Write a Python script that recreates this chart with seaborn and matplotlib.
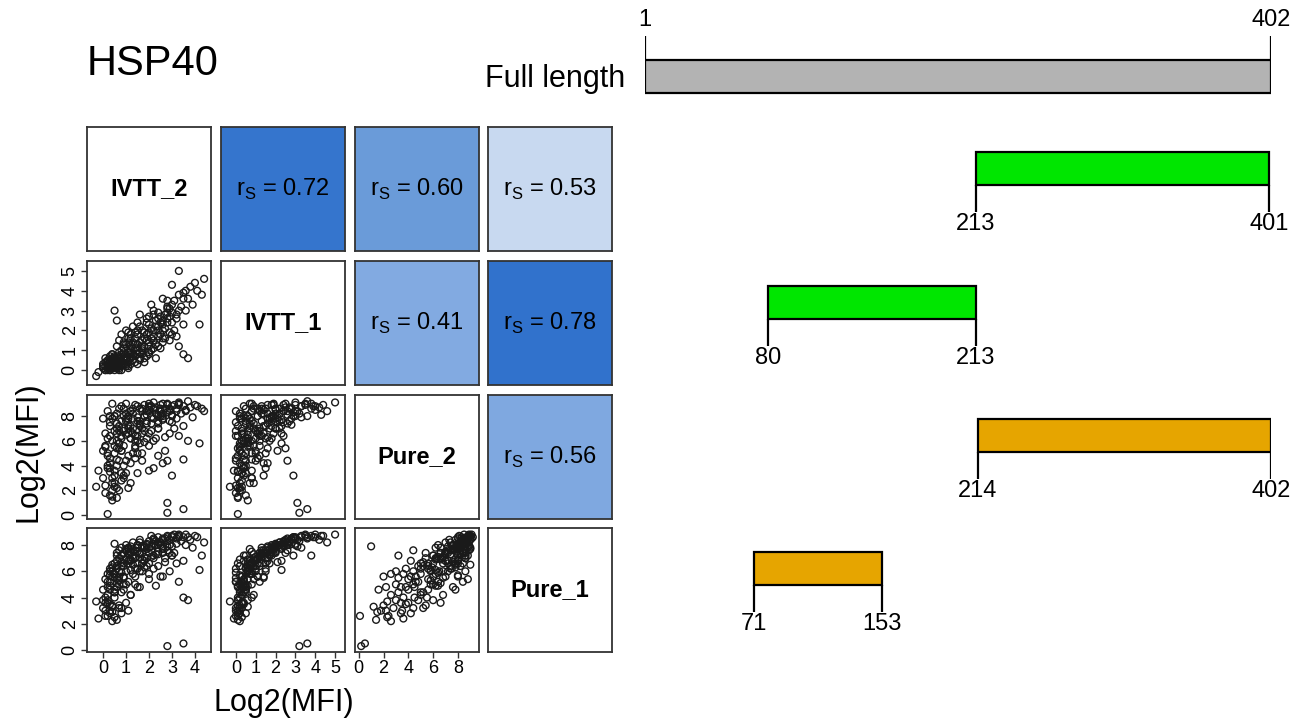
import numpy as np
import pandas as pd
import matplotlib.pyplot as plt
import seaborn as sns

# Log2(MFI) per antigen spot, four assay conditions (read approximately off the scatter clouds)
ivtt2 = [0.1, 0.3, 0.2, 0.5, 0.4, 0.0, 0.6, 0.3, 0.7, 0.2,
         0.5, 0.8, 0.4, 0.6, 0.9, 0.1, 0.7, 0.3, 1.0, 0.5,
         0.8, 1.0, 0.6, 1.2, 0.9, 1.1, 0.4, 1.3, 0.7, 1.4,
         1.5, 1.2, 1.6, 0.8, 1.7, 1.0, 1.8, 1.3, 0.6, 0.5,
         1.9, 2.0, 1.5, 2.1, 1.7, 2.2, 1.4, 2.3, 1.6, 2.0,
         2.4, 2.5, 1.8, 2.6, 2.2, 2.7, 1.9, 2.8, 2.4, 2.1,
         2.9, 3.0, 3.1, 2.6, 3.2, 3.3, 2.9, 3.4, 3.5, 3.6,
         3.7, 3.8, 4.0, 4.4, 4.3, 3.3, 3.9, 4.1, 3.0, 3.5,
         2.8, 3.5, 2.8, 0.2, -0.3, -0.2, 3.5, 3.7, 3.3, 4.2,
         0.1, 0.2, 0.0, 0.4, 0.6, 0.3, 0.5, 0.8, 0.9, 0.1,
         1.1, 1.3, 1.5, 1.2, 1.6, 1.8, 2.1, 1.4, 1.9, 2.3,
         1.0, 1.2, 1.4, 1.7, 2.0, 2.5, 2.7, 2.2, 2.6, 3.1,
         0.8, 1.0, 0.6, 0.3, 0.9, 1.1, 1.5, 1.7, 1.9, 2.4,
         2.0, 1.6, 2.5, 2.9, 1.2, 0.7, 3.2, 2.3, 2.8, 3.0,
         0.4, 0.1, 0.5, 0.2, 0.6, 0.8, 0.3, 0.0, 0.7, 0.4,
         1.3, 1.8, 2.2, 2.6, 1.5, 2.0, 2.4, 2.8, 3.2, 1.1,
         0.4, 0.6, 0.9, 1.1, 0.5, 0.7, 1.2, 1.4, 0.3, 0.8,
         1.6, 1.8, 2.1, 2.3, 2.6, 1.7, 2.0, 2.4, 1.5, 1.9,
         0.2, 0.5, 0.7, 0.9, 1.0, 0.6, 0.3, 1.2, 0.4, 0.8,
         2.7, 3.0, 2.5, 2.9, 3.3, 1.6, 1.2, 0.9, 2.2, 2.8,
         0.6, 1.0, 0.5, 1.3, 0.3, 0.2, 1.1, 0.7, 1.4, 0.9,
         1.3, 1.7, 2.2, 2.6, 3.0, 1.1, 1.5, 2.0, 2.4, 3.6]
ivtt1 = [0.0, 0.1, 0.3, 0.0, 0.2, 0.1, 0.4, 0.0, 0.2, 0.5,
         0.6, 0.3, 0.1, 0.7, 0.5, 0.2, 0.9, 0.4, 0.6, 0.3,
         1.0, 0.2, 1.2, 0.8, 1.4, 0.4, 0.8, 1.1, 1.5, 0.7,
         1.3, 1.6, 0.9, 1.8, 1.5, 2.0, 1.2, 2.2, 2.5, 3.0,
         1.8, 1.4, 2.4, 2.1, 1.0, 1.7, 1.9, 2.5, 2.8, 0.8,
         2.0, 2.7, 0.6, 2.3, 3.0, 1.6, 2.6, 2.9, 1.2, 3.3,
         3.1, 2.4, 3.5, 3.6, 2.8, 3.8, 1.9, 3.2, 3.9, 4.0,
         3.6, 4.2, 4.4, 4.6, 3.8, 5.0, 3.3, 4.0, 4.3, 2.3,
         3.2, 3.6, 3.1, 0.1, -0.3, -0.1, 0.8, 0.6, 1.2, 2.3,
         0.4, 0.0, 0.3, 0.6, 0.1, 0.2, 0.5, 0.0, 0.8, 0.6,
         0.1, 0.5, 0.3, 0.9, 0.6, 0.4, 1.0, 1.1, 0.7, 1.3,
         1.3, 1.0, 1.6, 2.0, 2.3, 1.8, 2.1, 1.5, 1.4, 2.0,
         0.4, 0.7, 0.2, 0.7, 1.1, 1.6, 0.8, 1.2, 2.4, 2.6,
         0.9, 0.5, 1.1, 1.5, 0.3, 0.1, 1.7, 0.6, 2.6, 2.9,
         0.2, 0.0, 0.4, 0.3, 0.1, 0.5, 0.0, 0.2, 0.3, 0.8,
         1.4, 1.6, 2.0, 2.5, 1.8, 2.7, 2.2, 2.4, 2.6, 1.9,
         0.3, 0.5, 0.6, 0.9, 0.2, 0.6, 1.2, 1.3, 0.1, 0.8,
         1.4, 1.9, 1.6, 2.2, 2.0, 1.1, 1.2, 1.7, 1.0, 1.5,
         0.1, 0.1, 0.4, 0.3, 0.5, 0.3, 0.2, 0.6, 0.5, 0.2,
         2.8, 3.3, 2.4, 2.7, 3.0, 2.2, 1.8, 1.3, 2.8, 3.5,
         0.4, 0.3, 0.7, 0.8, 0.5, 0.4, 0.2, 0.0, 0.4, 0.9,
         0.7, 0.8, 1.1, 1.6, 1.8, 1.4, 2.0, 1.9, 2.9, 3.0]
pure2 = [2.4, 3.5, 5.0, 6.8, 2.0, 3.0, 4.5, 7.5, 5.8, 6.2,
         8.0, 2.8, 1.5, 7.0, 4.0, 5.5, 8.6, 3.8, 6.5, 2.3,
         5.2, 7.8, 6.0, 8.4, 3.2, 4.8, 9.0, 6.6, 7.2, 5.6,
         8.8, 4.2, 7.4, 6.2, 5.0, 8.2, 6.8, 7.0, 5.4, 8.0,
         7.6, 8.5, 6.4, 7.9, 4.4, 6.0, 8.9, 8.7, 7.3, 3.6,
         7.0, 8.6, 5.9, 7.7, 9.1, 6.3, 8.1, 8.3, 4.8, 8.8,
         8.4, 7.5, 8.9, 8.0, 8.6, 9.0, 6.6, 8.2, 8.8, 8.5,
         9.2, 8.7, 8.9, 8.4, 8.6, 9.1, 7.9, 8.8, 8.1, 7.2,
         0.2, 0.5, 1.0, 0.1, 2.3, 3.6, 4.5, 6.0, 6.4, 5.8,
         6.6, 8.4, 7.8, 1.2, 1.4, 4.2, 5.0, 6.4, 3.0, 5.6,
         7.2, 8.6, 3.4, 2.6, 5.8, 8.0, 6.8, 4.6, 7.4, 8.2,
         7.6, 6.2, 5.4, 8.6, 6.6, 8.9, 5.2, 3.8, 4.2, 7.0,
         8.8, 9.0, 8.2, 7.2, 6.8, 7.8, 6.0, 7.0, 8.4, 7.4,
         8.8, 7.6, 8.0, 8.6, 6.8, 5.4, 7.8, 6.2, 4.4, 3.2,
         2.6, 1.8, 3.2, 4.0, 2.2, 3.4, 4.6, 5.2, 2.0, 3.0,
         8.2, 8.9, 8.5, 9.0, 7.9, 8.7, 7.6, 8.9, 8.4, 8.0,
         6.0, 7.4, 8.0, 7.0, 5.6, 6.8, 8.4, 6.4, 6.4, 7.6,
         7.2, 8.0, 7.4, 8.2, 7.8, 6.6, 5.6, 7.0, 5.0, 6.2,
         4.8, 3.6, 5.8, 7.0, 4.4, 6.6, 8.0, 6.2, 7.8, 5.2,
         8.6, 8.8, 8.4, 7.6, 8.9, 8.6, 7.2, 8.6, 7.8, 9.0,
         4.0, 3.4, 2.6, 5.0, 1.6, 3.8, 2.2, 4.4, 6.0, 5.6,
         7.8, 8.4, 8.6, 8.2, 8.0, 6.6, 7.6, 9.0, 8.0, 8.4]
pure1 = [2.6, 3.0, 4.2, 5.5, 3.4, 3.8, 4.8, 6.2, 5.0, 5.8,
         6.6, 3.2, 2.9, 6.8, 4.6, 4.0, 7.0, 3.5, 6.0, 2.5,
         6.4, 6.9, 7.2, 7.5, 5.5, 5.2, 6.5, 7.0, 7.6, 6.2,
         7.8, 6.8, 7.3, 7.8, 6.6, 8.0, 7.1, 8.2, 7.4, 8.1,
         7.7, 7.4, 8.0, 7.9, 6.0, 7.2, 7.6, 8.3, 8.4, 5.8,
         7.5, 8.2, 6.3, 7.7, 8.5, 7.0, 8.0, 8.6, 6.4, 8.7,
         8.4, 7.9, 8.8, 8.5, 8.1, 8.7, 7.4, 8.3, 8.6, 8.8,
         8.6, 8.4, 8.7, 8.2, 7.2, 8.8, 7.8, 8.6, 8.7, 6.8,
         0.3, 0.5, 7.9, 2.6, 3.7, 2.4, 4.0, 3.8, 5.2, 6.1,
         3.6, 5.2, 4.6, 3.3, 2.3, 2.8, 4.4, 5.9, 5.0, 5.4,
         6.6, 7.2, 4.8, 4.2, 6.0, 6.8, 7.1, 5.6, 6.4, 7.3,
         7.6, 6.9, 7.0, 7.9, 7.8, 8.0, 6.7, 6.2, 5.6, 7.4,
         7.2, 7.7, 6.4, 6.0, 6.6, 7.8, 6.6, 7.4, 8.1, 8.2,
         5.4, 4.8, 5.6, 6.0, 4.2, 3.4, 6.6, 4.9, 7.6, 7.2,
         2.2, 3.0, 4.4, 3.6, 4.8, 2.8, 5.2, 3.2, 5.6, 6.0,
         7.6, 7.9, 8.1, 8.4, 7.5, 8.3, 8.0, 8.3, 8.5, 7.7,
         5.6, 6.2, 6.9, 6.8, 4.6, 6.0, 7.4, 7.1, 4.9, 6.7,
         7.4, 7.8, 7.6, 8.0, 7.8, 6.9, 6.6, 7.3, 6.2, 7.0,
         3.8, 4.0, 5.3, 5.6, 5.0, 5.1, 5.7, 6.1, 6.3, 4.4,
         8.5, 8.6, 8.2, 8.0, 8.6, 8.2, 7.9, 7.4, 8.4, 8.7,
         5.4, 3.6, 5.8, 5.8, 4.6, 4.8, 3.0, 3.2, 5.0, 6.4,
         6.5, 6.6, 7.0, 7.4, 7.2, 7.4, 8.0, 7.8, 8.6, 8.0]

conditions = ["IVTT_2", "IVTT_1", "Pure_2", "Pure_1"]

# Spearman correlations shown in the upper triangle (row, col) and box colours
rs_cells = [(0, 1), (0, 2), (0, 3), (1, 2), (1, 3), (2, 3)]
rs_values = ["0.72", "0.60", "0.53", "0.41", "0.78", "0.56"]
rs_colors = ["#3575cd", "#6a9bd9", "#c8d9f0", "#82aae1", "#3172cc", "#7fa8e0"]

# protein fragments (residue ranges)
frag_names = ["Full length", "", "", "", ""]
frag_start = [1, 213, 80, 214, 71]
frag_end = [402, 401, 213, 402, 153]
frag_colors = ["#b3b3b3", "#00e600", "#00e600", "#e6a500", "#e6a500"]

df = pd.DataFrame({"IVTT_2": ivtt2, "IVTT_1": ivtt1, "Pure_2": pure2, "Pure_1": pure1})

sns.set_style("ticks")
plt.rcParams["font.family"] = ["Liberation Sans", "DejaVu Sans"]
plt.rcParams["mathtext.fontset"] = "custom"
plt.rcParams["mathtext.rm"] = "Liberation Sans"
plt.rcParams["text.color"] = "black"
plt.rcParams["xtick.labelcolor"] = "black"
plt.rcParams["ytick.labelcolor"] = "black"

W, H = 1308, 723
fig = plt.figure(figsize=(W / 100, H / 100), dpi=100)


def px_box(x, y, w, h):
    return [x / W, 1 - (y + h) / H, w / W, h / H]


col_x = [87, 221, 355, 488]
row_y = [127, 261, 395, 528]
size = 124
limits = {"IVTT_2": (-0.7, 4.7), "IVTT_1": (-0.75, 5.5),
          "Pure_2": (-0.3, 9.7), "Pure_1": (-0.15, 9.3)}
ticks = {"IVTT_2": [0, 1, 2, 3, 4], "IVTT_1": [0, 1, 2, 3, 4, 5],
         "Pure_2": [0, 2, 4, 6, 8], "Pure_1": [0, 2, 4, 6, 8]}
edge = "#333333"

for i in range(4):
    for j in range(4):
        ax = fig.add_axes(px_box(col_x[j], row_y[i], size, size))
        for sp in ax.spines.values():
            sp.set_color(edge)
            sp.set_linewidth(1.3)
        ax.set_xticks([])
        ax.set_yticks([])
        if i > j:
            xv, yv = conditions[j], conditions[i]
            sns.scatterplot(data=df, x=xv, y=yv, ax=ax, marker="o", s=24,
                            facecolor="none", edgecolor="#1a1a1a", linewidth=1.0)
            ax.set_xlim(limits[xv])
            ax.set_ylim(limits[yv])
            ax.set_xlabel("")
            ax.set_ylabel("")
            ax.set_xticks([])
            ax.set_yticks([])
            ax.tick_params(length=4, width=1, color=edge, pad=2, labelsize=13)
            if i == 3:
                ax.set_xticks(ticks[xv])
                ax.set_xticklabels([str(t) for t in ticks[xv]])
            if j == 0:
                ax.set_yticks(ticks[yv])
                ax.set_yticklabels([str(t) for t in ticks[yv]], rotation=90, va="center")
        elif i == j:
            ax.text(0.5, 0.5, conditions[i], transform=ax.transAxes, ha="center",
                    va="center", fontsize=17, fontweight="bold")
        else:
            k = rs_cells.index((i, j))
            ax.set_facecolor(rs_colors[k])
            ax.text(0.5, 0.5, r"r$_\mathrm{S}$ = " + rs_values[k], transform=ax.transAxes,
                    ha="center", va="center", fontsize=17)

fig.text(87 / W, 1 - 64 / H, "HSP40", fontsize=30, ha="left", va="center")
fig.text(28 / W, 1 - 452 / H, "Log2(MFI)", fontsize=22, rotation=90, ha="center", va="center")
fig.text(284 / W, 1 - 703 / H, "Log2(MFI)", fontsize=22, ha="center", va="center")

# fragment map, x in residues, y in pixels from top
fax = fig.add_axes([645 / W, 0, 626 / W, 1])
fax.set_xlim(1, 402)
fax.set_ylim(H, 0)
fax.axis("off")
bar_y = [76.5, 168.5, 302.5, 435.5, 568.5]
bar_h = 33
fax.barh(bar_y, np.array(frag_end) - np.array(frag_start), left=frag_start, height=bar_h,
         color=frag_colors, edgecolor="black", linewidth=1.6)
for k in range(len(frag_start)):
    top = bar_y[k] - bar_h / 2
    bottom = bar_y[k] + bar_h / 2
    for pos in (frag_start[k], frag_end[k]):
        if k == 0:
            fax.vlines(pos, top - 24, top, color="black", linewidth=1.6)
            fax.text(pos, top - 40, str(pos), ha="center", va="center", fontsize=17)
        else:
            fax.vlines(pos, bottom, bottom + 27, color="black", linewidth=1.6)
            fax.text(pos, bottom + 39, str(pos), ha="center", va="center", fontsize=17)
    if frag_names[k]:
        fax.annotate(frag_names[k], xy=(frag_start[k], bar_y[k] + 2), xytext=(-14, 0),
                     textcoords="offset points", ha="right", va="center", fontsize=22)

fig.savefig("out.png", dpi=100)
